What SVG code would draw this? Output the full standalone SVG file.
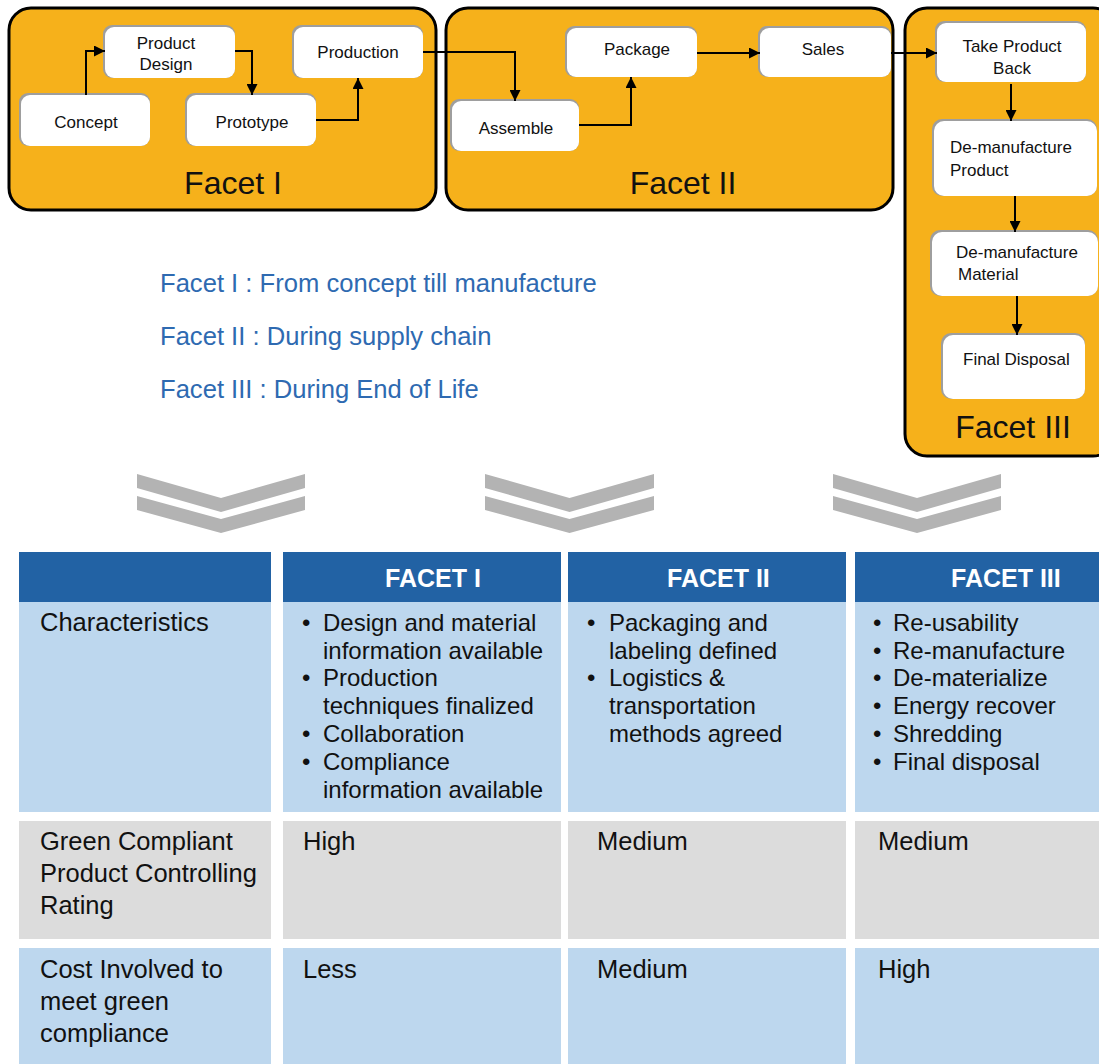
<svg xmlns="http://www.w3.org/2000/svg" width="1099" height="1064" viewBox="0 0 1099 1064">
<style>
text{font-family:"Liberation Sans",Arial,sans-serif;fill:#111}
.facet{fill:#F6B11B;stroke:#000;stroke-width:3}
.flab{font-size:32px}
.sh{fill:#9E9E9E}
.nd{fill:#fff}
.nl{font-size:17px}
.conn{fill:none;stroke:#000;stroke-width:2}
.leg{font-size:25.6px;fill:#2E6AB1}
.chev{fill:#B3B3B3}
.hd{fill:#2262A4}
.lb{fill:#BDD7EE}
.gr{fill:#DCDCDC}
.ht{font-size:25px;font-weight:bold;fill:#fff}
.bt{font-size:24px}
.bl{font-size:25.5px}
</style>
<defs>
<marker id="ah" viewBox="0 0 10 10" refX="10" refY="5" markerWidth="11" markerHeight="11" markerUnits="userSpaceOnUse" orient="auto"><path d="M0,0 L10,5 L0,10 z" fill="#000"/></marker>
</defs>

<g id="facet1">
<rect class="facet" x="9" y="8" width="427" height="202" rx="22"/>
<text class="flab" x="233" y="194" text-anchor="middle">Facet I</text>
</g>
<g id="facet2">
<rect class="facet" x="446" y="8" width="447" height="202" rx="22"/>
<text class="flab" x="683" y="194" text-anchor="middle">Facet II</text>
</g>
<g id="facet3">
<rect class="facet" x="905" y="8" width="210" height="448" rx="22"/>
<text class="flab" x="1013" y="438" text-anchor="middle">Facet III</text>
</g>

<g id="concept"><rect class="sh" x="19" y="93" width="131" height="53" rx="9"/><rect class="nd" x="21" y="95" width="129" height="51" rx="9"/><text class="nl" x="86" y="128" text-anchor="middle">Concept</text></g>
<g id="product-design"><rect class="sh" x="103" y="25" width="132" height="53" rx="9"/><rect class="nd" x="105" y="27" width="130" height="51" rx="9"/><text class="nl" x="166" y="49" text-anchor="middle">Product</text><text class="nl" x="166" y="70" text-anchor="middle">Design</text></g>
<g id="prototype"><rect class="sh" x="185" y="93" width="131" height="53" rx="9"/><rect class="nd" x="187" y="95" width="129" height="51" rx="9"/><text class="nl" x="252" y="128" text-anchor="middle">Prototype</text></g>
<g id="production"><rect class="sh" x="292" y="25" width="131" height="53" rx="9"/><rect class="nd" x="294" y="27" width="129" height="51" rx="9"/><text class="nl" x="358" y="58" text-anchor="middle">Production</text></g>
<g id="assemble"><rect class="sh" x="450" y="99" width="129" height="52" rx="9"/><rect class="nd" x="452" y="101" width="127" height="50" rx="9"/><text class="nl" x="516" y="134" text-anchor="middle">Assemble</text></g>
<g id="package"><rect class="sh" x="565" y="26" width="132" height="51" rx="9"/><rect class="nd" x="567" y="28" width="130" height="49" rx="9"/><text class="nl" x="637" y="55" text-anchor="middle">Package</text></g>
<g id="sales"><rect class="sh" x="758" y="26" width="133" height="51" rx="9"/><rect class="nd" x="760" y="28" width="131" height="49" rx="9"/><text class="nl" x="823" y="55" text-anchor="middle">Sales</text></g>
<g id="take-product-back"><rect class="sh" x="935" y="21" width="151" height="61" rx="9"/><rect class="nd" x="937" y="23" width="149" height="59" rx="9"/><text class="nl" x="1012" y="52" text-anchor="middle">Take Product</text><text class="nl" x="1012" y="74" text-anchor="middle">Back</text></g>
<g id="demanufacture-product"><rect class="sh" x="932" y="119" width="165" height="77" rx="10"/><rect class="nd" x="934" y="121" width="163" height="75" rx="10"/><text class="nl" x="950" y="153">De-manufacture</text><text class="nl" x="950" y="176">Product</text></g>
<g id="demanufacture-material"><rect class="sh" x="930" y="230" width="168" height="66" rx="10"/><rect class="nd" x="932" y="232" width="166" height="64" rx="10"/><text class="nl" x="956" y="258">De-manufacture</text><text class="nl" x="958" y="280">Material</text></g>
<g id="final-disposal"><rect class="sh" x="941" y="333" width="144" height="66" rx="10"/><rect class="nd" x="943" y="335" width="142" height="64" rx="10"/><text class="nl" x="963" y="365">Final Disposal</text></g>

<g id="connectors">
<path class="conn" d="M86,95 V51 H105" marker-end="url(#ah)"/>
<path class="conn" d="M235,51 H252 V95" marker-end="url(#ah)"/>
<path class="conn" d="M316,120 H358 V78" marker-end="url(#ah)"/>
<path class="conn" d="M423,52 H515 V101" marker-end="url(#ah)"/>
<path class="conn" d="M579,125 H631 V77" marker-end="url(#ah)"/>
<path class="conn" d="M697,53 H760" marker-end="url(#ah)"/>
<path class="conn" d="M891,53 H937" marker-end="url(#ah)"/>
<path class="conn" d="M1011,84 V121" marker-end="url(#ah)"/>
<path class="conn" d="M1015,196 V232" marker-end="url(#ah)"/>
<path class="conn" d="M1017,296 V335" marker-end="url(#ah)"/>
</g>

<g id="legend">
<text class="leg" x="160" y="292">Facet I : From concept till manufacture</text>
<text class="leg" x="160" y="345">Facet II : During supply chain</text>
<text class="leg" x="160" y="398">Facet III : During End of Life</text>
</g>

<g id="chevrons">
<path class="chev" d="M137,474 L221,498 L305,474 V488 L221,512 L137,488 z"/>
<path class="chev" d="M137,496 L221,519 L305,496 V510 L221,533 L137,510 z"/>
<path class="chev" d="M485,474 L569.5,498 L654,474 V488 L569.5,512 L485,488 z"/>
<path class="chev" d="M485,496 L569.5,519 L654,496 V510 L569.5,533 L485,510 z"/>
<path class="chev" d="M833,474 L917,498 L1001,474 V488 L917,512 L833,488 z"/>
<path class="chev" d="M833,496 L917,519 L1001,496 V510 L917,533 L833,510 z"/>
</g>

<g id="table">
<rect class="hd" x="19" y="552" width="252" height="50"/>
<rect class="hd" x="283" y="552" width="278" height="50"/>
<rect class="hd" x="568" y="552" width="278" height="50"/>
<rect class="hd" x="855" y="552" width="244" height="50"/>
<text class="ht" x="385" y="587">FACET I</text>
<text class="ht" x="667" y="587">FACET II</text>
<text class="ht" x="951" y="587">FACET III</text>

<rect class="lb" x="19" y="602" width="252" height="210"/>
<rect class="lb" x="283" y="602" width="278" height="210"/>
<rect class="lb" x="568" y="602" width="278" height="210"/>
<rect class="lb" x="855" y="602" width="244" height="210"/>

<rect class="gr" x="19" y="821" width="252" height="118"/>
<rect class="gr" x="283" y="821" width="278" height="118"/>
<rect class="gr" x="568" y="821" width="278" height="118"/>
<rect class="gr" x="855" y="821" width="244" height="118"/>

<rect class="lb" x="19" y="948" width="252" height="116"/>
<rect class="lb" x="283" y="948" width="278" height="116"/>
<rect class="lb" x="568" y="948" width="278" height="116"/>
<rect class="lb" x="855" y="948" width="244" height="116"/>

<text class="bl" x="40" y="631">Characteristics</text>

<text class="bt" x="302" y="631">•</text><text class="bt" x="323" y="631">Design and material</text>
<text class="bt" x="323" y="659">information available</text>
<text class="bt" x="302" y="686">•</text><text class="bt" x="323" y="686">Production</text>
<text class="bt" x="323" y="714">techniques finalized</text>
<text class="bt" x="302" y="742">•</text><text class="bt" x="323" y="742">Collaboration</text>
<text class="bt" x="302" y="770">•</text><text class="bt" x="323" y="770">Compliance</text>
<text class="bt" x="323" y="798">information available</text>

<text class="bt" x="587" y="631">•</text><text class="bt" x="609" y="631">Packaging and</text>
<text class="bt" x="609" y="659">labeling defined</text>
<text class="bt" x="587" y="686">•</text><text class="bt" x="609" y="686">Logistics &amp;</text>
<text class="bt" x="609" y="714">transportation</text>
<text class="bt" x="609" y="742">methods agreed</text>

<text class="bt" x="873" y="631">•</text><text class="bt" x="893" y="631">Re-usability</text>
<text class="bt" x="873" y="659">•</text><text class="bt" x="893" y="659">Re-manufacture</text>
<text class="bt" x="873" y="686">•</text><text class="bt" x="893" y="686">De-materialize</text>
<text class="bt" x="873" y="714">•</text><text class="bt" x="893" y="714">Energy recover</text>
<text class="bt" x="873" y="742">•</text><text class="bt" x="893" y="742">Shredding</text>
<text class="bt" x="873" y="770">•</text><text class="bt" x="893" y="770">Final disposal</text>

<text class="bl" x="40" y="850">Green Compliant</text>
<text class="bl" x="40" y="882">Product Controlling</text>
<text class="bl" x="40" y="914">Rating</text>
<text class="bl" x="303" y="850">High</text>
<text class="bl" x="597" y="850">Medium</text>
<text class="bl" x="878" y="850">Medium</text>

<text class="bl" x="40" y="978">Cost Involved to</text>
<text class="bl" x="40" y="1010">meet green</text>
<text class="bl" x="40" y="1042">compliance</text>
<text class="bl" x="303" y="978">Less</text>
<text class="bl" x="597" y="978">Medium</text>
<text class="bl" x="878" y="978">High</text>
</g>
</svg>
